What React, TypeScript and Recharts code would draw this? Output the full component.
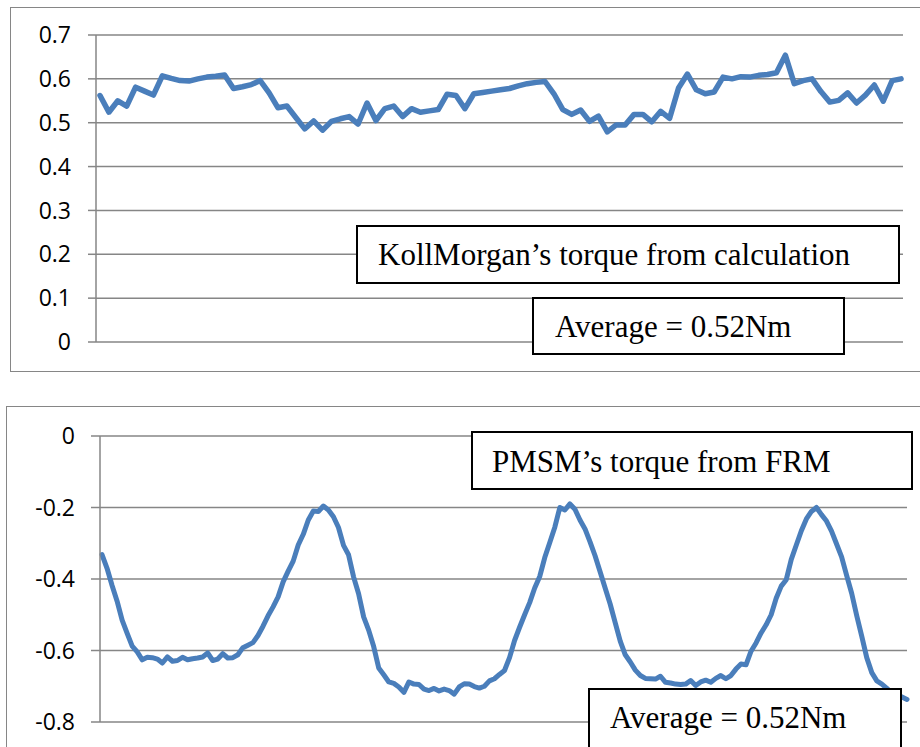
import React from "react";
import { LineChart, Line, XAxis, YAxis, CartesianGrid } from "recharts";

// KollMorgan torque, one value per sample (Nm)
const kollTorque = [
  0.562, 0.524, 0.55, 0.538, 0.581, 0.572, 0.563, 0.607, 0.601, 0.596,
  0.595, 0.6, 0.604, 0.606, 0.609, 0.578, 0.582, 0.587, 0.596, 0.568,
  0.534, 0.538, 0.512, 0.486, 0.504, 0.483, 0.503, 0.509, 0.514, 0.497,
  0.545, 0.505, 0.532, 0.538, 0.514, 0.532, 0.524, 0.527, 0.53, 0.565,
  0.562, 0.532, 0.566, 0.569, 0.572, 0.575, 0.578, 0.584, 0.589, 0.592,
  0.594, 0.566, 0.53, 0.519, 0.529, 0.503, 0.515, 0.479, 0.495, 0.495,
  0.519, 0.519, 0.502, 0.526, 0.51, 0.579, 0.611, 0.575, 0.566, 0.57,
  0.604, 0.6, 0.605, 0.604, 0.608, 0.61, 0.614, 0.654, 0.589, 0.596,
  0.6, 0.571, 0.547, 0.551, 0.568, 0.545, 0.563, 0.586, 0.549, 0.596,
  0.6,
];

// PMSM torque from FRM (Nm)
const pmsmTorque = [
  -0.332, -0.37, -0.418, -0.462, -0.515, -0.552, -0.588, -0.604, -0.626, -0.619,
  -0.62, -0.624, -0.635, -0.618, -0.63, -0.628, -0.619, -0.626, -0.623, -0.621,
  -0.618, -0.607, -0.628, -0.624, -0.609, -0.621, -0.62, -0.612, -0.592, -0.585,
  -0.578, -0.558, -0.532, -0.503, -0.478, -0.45, -0.408, -0.378, -0.35, -0.305,
  -0.275, -0.235, -0.21, -0.211, -0.196, -0.207, -0.226, -0.256, -0.306, -0.332,
  -0.394, -0.441, -0.506, -0.543, -0.589, -0.649, -0.668, -0.688, -0.692, -0.702,
  -0.717, -0.688, -0.694, -0.695, -0.708, -0.712, -0.706, -0.713, -0.708, -0.712,
  -0.722, -0.702, -0.693, -0.694, -0.701, -0.705, -0.7, -0.685, -0.679, -0.667,
  -0.656, -0.62, -0.572, -0.535, -0.5, -0.466, -0.425, -0.393, -0.34, -0.298,
  -0.255, -0.2, -0.207, -0.19, -0.205, -0.235, -0.26, -0.296, -0.335, -0.38,
  -0.425, -0.47, -0.522, -0.574, -0.612, -0.632, -0.655, -0.67, -0.678, -0.679,
  -0.68, -0.672, -0.689, -0.691, -0.694, -0.695, -0.694, -0.684, -0.698, -0.688,
  -0.683, -0.689, -0.678, -0.67, -0.679, -0.67, -0.652, -0.638, -0.64, -0.602,
  -0.579, -0.551, -0.528, -0.5, -0.454, -0.42, -0.402, -0.345, -0.305, -0.265,
  -0.232, -0.211, -0.2, -0.22, -0.238, -0.266, -0.302, -0.338, -0.39, -0.44,
  -0.502, -0.56, -0.62, -0.662, -0.685, -0.694, -0.706, -0.72, -0.726, -0.73,
  -0.737,
];

const kollTicks = [0, 0.1, 0.2, 0.3, 0.4, 0.5, 0.6, 0.7];
const pmsmTicks = [0, -0.2, -0.4, -0.6, -0.8];

const kollData = kollTorque.map((v, i) => ({ i, v }));
const pmsmData = pmsmTorque.map((v, i) => ({ i, v }));

const GRID = "#868686";
const BLUE = "#4a7ebb";
const tickFont = { fontFamily: "'Open Sans', sans-serif", fontSize: 23, fill: "#000" };
const serif = "'Liberation Serif', 'Times New Roman', serif";

const NoteBox = ({ x, y, w, h, tx, ty, label }: any) => (
  <g>
    <rect x={x} y={y} width={w} height={h} fill="#fff" stroke="#000" strokeWidth={2} />
    <text x={tx} y={ty} fontFamily={serif} fontSize={31} fill="#000">
      {label}
    </text>
  </g>
);

export default function App() {
  return (
    <div
      style={{
        position: "fixed",
        left: 0,
        top: 0,
        width: 920,
        height: 747,
        overflow: "hidden",
        background: "#fff",
      }}
    >
      {/* chart frames */}
      <div
        style={{
          position: "absolute",
          left: 10,
          top: 7,
          width: 920,
          height: 363,
          border: `1.5px solid ${GRID}`,
        }}
      />
      <div
        style={{
          position: "absolute",
          left: 6,
          top: 406,
          width: 930,
          height: 400,
          border: `1.5px solid ${GRID}`,
        }}
      />

      <div style={{ position: "absolute", left: 0, top: 0 }}>
        <LineChart
          width={920}
          height={380}
          data={kollData}
          margin={{ top: 35, right: 17, bottom: 38, left: 0 }}
        >
          <CartesianGrid vertical={false} stroke={GRID} strokeWidth={1.5} />
          <XAxis dataKey="i" type="number" domain={[-0.45, 90.22]} hide />
          <YAxis
            width={96}
            domain={[0, 0.7]}
            ticks={kollTicks}
            interval={0}
            tick={tickFont}
            tickSize={8}
            tickMargin={17}
            axisLine={{ stroke: GRID, strokeWidth: 1.5 }}
            tickLine={{ stroke: GRID, strokeWidth: 1.5 }}
          />
          <Line
            type="linear"
            dataKey="v"
            stroke={BLUE}
            strokeWidth={5.5}
            strokeLinejoin="round"
            strokeLinecap="round"
            dot={false}
            isAnimationActive={false}
          />
        </LineChart>
      </div>

      <div style={{ position: "absolute", left: 0, top: 380 }}>
        <LineChart
          width={920}
          height={367}
          data={pmsmData}
          margin={{ top: 56, right: 13, bottom: 25, left: 0 }}
        >
          <CartesianGrid vertical={false} stroke={GRID} strokeWidth={1.5} />
          <XAxis dataKey="i" type="number" domain={[-0.4, 160]} hide />
          <YAxis
            width={100}
            domain={[-0.8, 0]}
            ticks={pmsmTicks}
            interval={0}
            tick={tickFont}
            tickSize={9}
            tickMargin={16}
            axisLine={{ stroke: GRID, strokeWidth: 1.5 }}
            tickLine={{ stroke: GRID, strokeWidth: 1.5 }}
          />
          <Line
            type="linear"
            dataKey="v"
            stroke={BLUE}
            strokeWidth={5}
            strokeLinejoin="round"
            strokeLinecap="round"
            dot={false}
            isAnimationActive={false}
          />
        </LineChart>
      </div>

      {/* annotation boxes */}
      <svg
        width={920}
        height={747}
        style={{ position: "absolute", left: 0, top: 0, pointerEvents: "none" }}
      >
        <NoteBox x={357} y={226} w={542} h={57} tx={378} ty={265} label="KollMorgan’s torque from calculation" />
        <NoteBox x={533} y={298} w={311} h={56} tx={555} ty={337} label="Average = 0.52Nm" />
        <NoteBox x={472} y={432} w={440} h={57} tx={492} ty={472} label="PMSM’s torque from FRM" />
        <NoteBox x={589} y={689} w={312} h={70} tx={610} ty={728} label="Average = 0.52Nm" />
      </svg>
    </div>
  );
}
